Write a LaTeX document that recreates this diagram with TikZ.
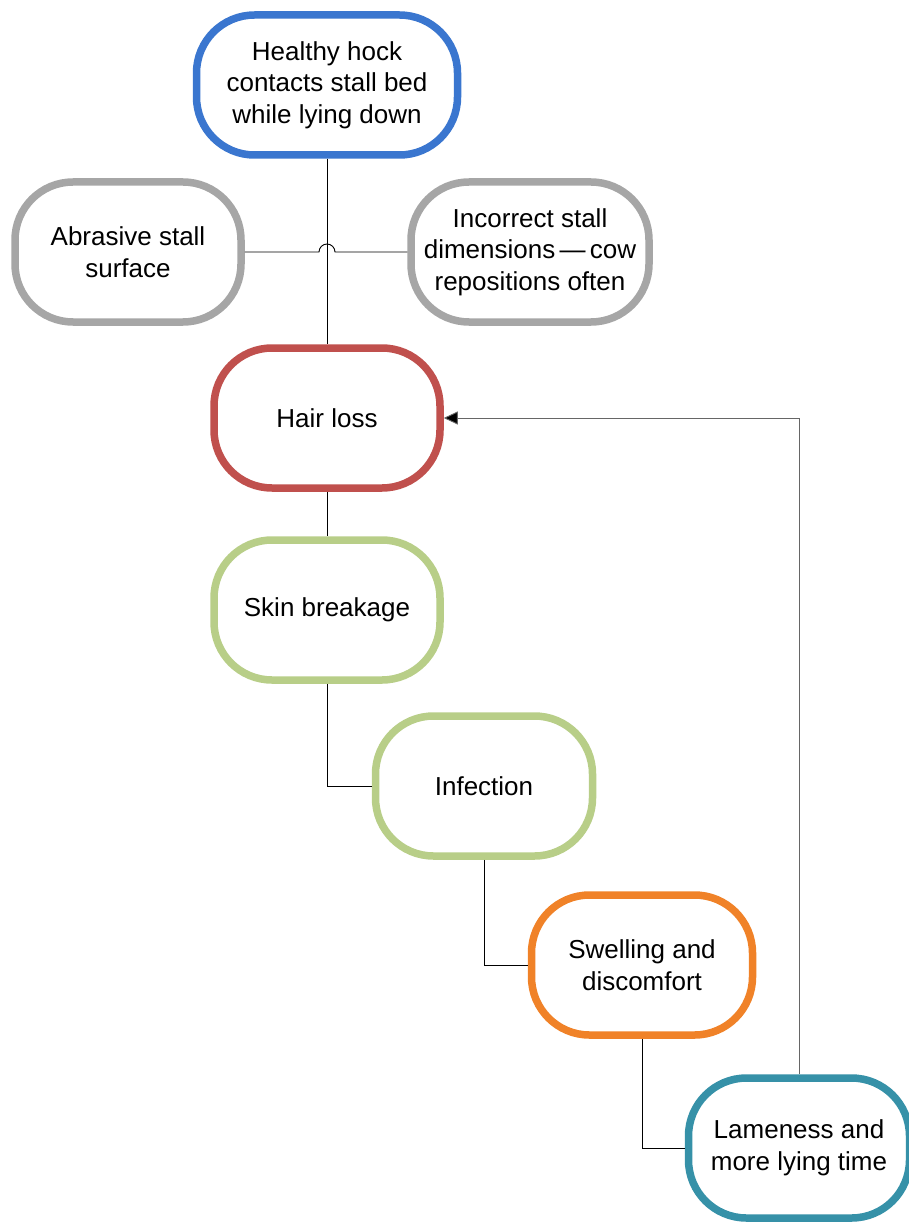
\documentclass[tikz,border=0pt]{standalone}
\usepackage{fontspec}
\setmainfont{Liberation Sans}
\usetikzlibrary{arrows.meta,calc}
\definecolor{cblue}{RGB}{58,118,207}
\definecolor{cgray}{RGB}{166,166,166}
\definecolor{cred}{RGB}{192,80,77}
\definecolor{cgreen}{RGB}{184,206,136}
\definecolor{corange}{RGB}{240,130,40}
\definecolor{cteal}{RGB}{54,145,168}
\tikzset{
  stage/.style={draw,line width=7.5pt,rounded corners=58pt,fill=white,
    minimum width=226pt,minimum height=140pt,align=center,
    font=\fontsize{26}{31.5}\selectfont,inner sep=0pt},
  link/.style={draw,line width=0.9pt},
}
\begin{document}
\begin{tikzpicture}[x=1pt,y=-1pt]
    \useasboundingbox (0,0) rectangle (909,1222);
    \node[stage,draw=cblue,minimum width=261pt] (healthy) at (327,85) {Healthy hock\\contacts stall bed\\while lying down};
    \node[stage,draw=cgray] (abrasive) at (128,252) {Abrasive stall\\surface};
    \node[stage,draw=cgray,minimum width=238pt] (dimensions) at (530,252) {Incorrect stall\\dimensions\,---\,cow\\repositions often};
    \node[stage,draw=cred] (hairloss) at (327,418) {Hair loss};
    \node[stage,draw=cgreen] (skin) at (327,610) {Skin breakage};
    \node[stage,draw=cgreen,minimum width=217pt] (infection) at (484,786) {Infection};
    \node[stage,draw=corange,minimum width=221pt] (swelling) at (642,965) {Swelling and\\discomfort};
    \node[stage,draw=cteal,minimum width=221pt] (lameness) at (799,1148) {Lameness and\\more lying time};
    \coordinate (cross) at (healthy.south |- abrasive.east);
    \draw[link] (healthy.south) -- (hairloss.north);
    \draw[link] (abrasive.east) -- ($(cross)+(-8,0)$) arc[start angle=180,end angle=0,radius=8pt] -- (dimensions.west);
    \draw[link] (hairloss.south) -- (skin.north);
    \draw[link] (skin.south) |- (infection.west);
    \draw[link] (infection.south) |- (swelling.west);
    \draw[link] (swelling.south) |- (lameness.west);
    \draw[link,draw=black!60,-{Triangle[length=14pt,width=13pt,fill=black]}] (lameness.north) |- (hairloss.east);
\end{tikzpicture}
\end{document}
